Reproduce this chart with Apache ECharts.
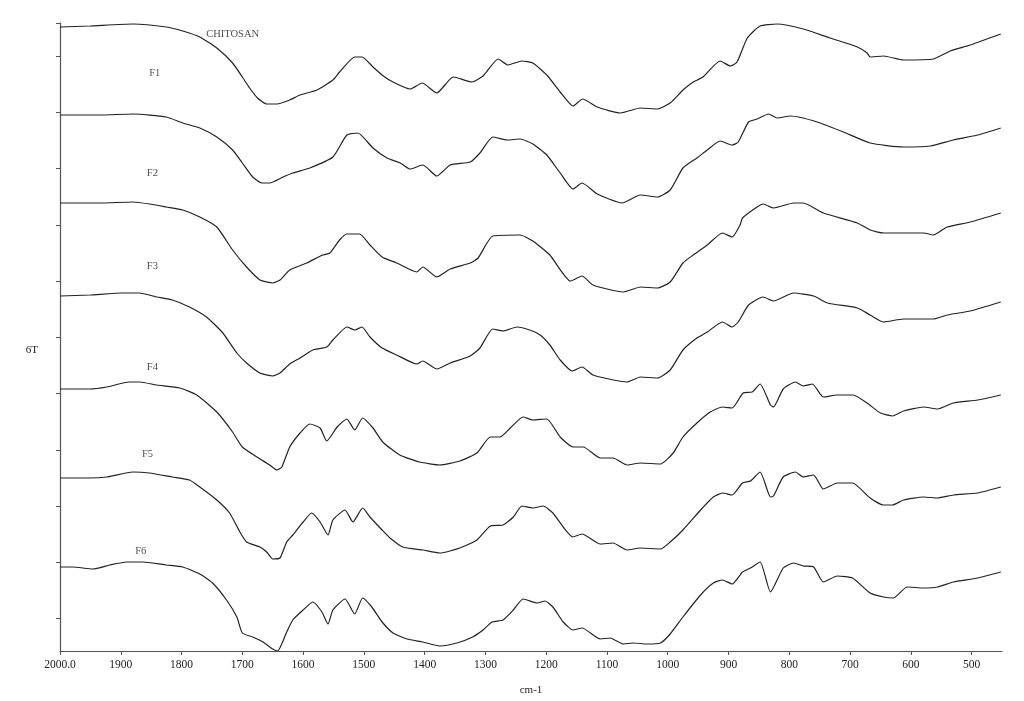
<!DOCTYPE html>
<html>
<head>
<meta charset="utf-8">
<script src="https://cdn.jsdelivr.net/npm/echarts@6/dist/echarts.min.js"></script>
<style>
html,body{margin:0;padding:0;background:#fff;}
#chart{width:1024px;height:701px;}
</style>
</head>
<body>
<div id="chart"></div>
<script>
// wavenumber (cm-1), relative %T (stacked, arbitrary offset units)
const chitosan = [[2000,624],[1951,625],[1880,627],[1825,624],[1798,620],[1770,614],[1742,603],[1716,588],[1700,574],[1688,563],[1675,553],[1660,547],[1643,547],[1622,551],[1605,556],[1577,561],[1551,571],[1540,579],[1515,594],[1503,594],[1485,584],[1468,575],[1452,569],[1424,562],[1404,568],[1380,558],[1353,574],[1322,569],[1304,575],[1279,592],[1263,586],[1240,590],[1222,588],[1199,576],[1177,559],[1156,545],[1140,552],[1116,544],[1078,538],[1045,543],[1017,542],[996,548],[975,561],[958,569],[942,574],[914,590],[897,585],[886,589],[869,613],[848,625],[820,627],[777,622],[733,613],[688,604],[672,598],[667,594],[645,595],[612,591],[563,592],[535,600],[502,606],[452,617]];
const f1 = [[2000,536],[1935,536],[1880,537],[1825,534],[1798,528],[1770,523],[1742,514],[1716,501],[1700,488],[1683,474],[1668,468],[1655,468],[1633,474],[1617,478],[1589,483],[1551,494],[1528,516],[1510,518],[1485,503],[1462,493],[1440,488],[1424,482],[1403,486],[1380,475],[1358,486],[1325,489],[1309,498],[1288,514],[1264,511],[1243,512],[1222,507],[1199,496],[1177,478],[1156,462],[1141,468],[1116,457],[1075,448],[1045,456],[1017,454],[996,461],[975,483],[952,493],[935,501],[914,510],[894,506],[884,509],[867,529],[853,532],[834,537],[820,533],[798,535],[754,529],[711,519],[667,508],[612,504],[568,505],[530,511],[490,516],[452,523]];
const f2 = [[2000,448],[1935,448],[1880,449],[1853,447],[1825,444],[1798,441],[1770,434],[1742,424],[1716,401],[1693,384],[1671,371],[1650,368],[1638,371],[1622,381],[1594,388],[1568,396],[1556,398],[1540,411],[1528,417],[1507,417],[1490,406],[1470,394],[1446,388],[1413,379],[1403,384],[1380,374],[1358,382],[1325,388],[1312,393],[1288,415],[1243,416],[1222,410],[1194,396],[1160,370],[1141,375],[1123,366],[1073,359],[1045,364],[1017,363],[996,369],[975,388],[958,396],[935,406],[910,418],[894,414],[881,426],[877,433],[853,444],[843,447],[826,443],[793,448],[777,448],[744,438],[688,428],[667,421],[645,418],[579,418],[563,416],[540,424],[502,429],[452,438]];
const f3 = [[2000,355],[1951,356],[1897,358],[1869,358],[1841,354],[1815,351],[1787,344],[1759,334],[1732,318],[1709,298],[1693,288],[1671,278],[1650,275],[1638,278],[1622,287],[1605,293],[1584,301],[1561,304],[1551,311],[1528,324],[1515,321],[1503,324],[1490,314],[1470,303],[1446,296],[1413,287],[1403,290],[1380,282],[1358,288],[1325,295],[1309,303],[1288,322],[1271,320],[1248,324],[1227,321],[1210,316],[1194,306],[1177,291],[1157,280],[1141,284],[1123,276],[1067,269],[1045,274],[1017,273],[996,281],[975,301],[952,313],[935,319],[910,329],[894,324],[884,329],[867,346],[843,354],[826,350],[793,358],[760,355],[737,348],[688,343],[667,336],[645,329],[612,332],[563,332],[540,336],[502,340],[452,349]];
const f4 = [[2000,262],[1951,262],[1923,264],[1886,269],[1869,269],[1841,266],[1803,263],[1775,256],[1742,239],[1716,219],[1700,204],[1676,194],[1655,186],[1643,181],[1635,184],[1622,204],[1605,218],[1589,227],[1572,223],[1561,210],[1544,224],[1528,232],[1515,221],[1502,233],[1485,223],[1469,209],[1441,196],[1408,189],[1375,186],[1342,190],[1314,198],[1292,214],[1276,214],[1259,223],[1238,234],[1222,231],[1199,232],[1177,214],[1156,204],[1139,204],[1111,193],[1090,193],[1067,186],[1045,188],[1012,187],[991,198],[975,214],[952,228],[930,239],[910,244],[894,243],[876,258],[861,259],[848,267],[831,246],[826,244],[810,262],[790,269],[777,265],[762,267],[744,254],[721,256],[695,256],[672,248],[650,238],[630,235],[612,240],[579,244],[556,242],[530,248],[490,251],[452,256]];
const f5 = [[2000,173],[1951,173],[1923,174],[1880,179],[1853,178],[1815,174],[1787,171],[1770,164],[1742,151],[1721,138],[1704,119],[1693,109],[1671,104],[1660,99],[1650,92],[1638,93],[1627,109],[1617,116],[1600,129],[1586,138],[1572,129],[1559,116],[1551,131],[1531,141],[1518,129],[1502,143],[1490,134],[1470,121],[1457,113],[1436,104],[1403,101],[1375,98],[1342,103],[1314,111],[1292,125],[1271,126],[1254,134],[1240,145],[1222,143],[1205,145],[1189,138],[1172,124],[1156,114],[1141,117],[1111,107],[1090,108],[1067,101],[1045,103],[1012,102],[996,109],[975,121],[946,141],[925,154],[910,158],[894,156],[877,168],[864,170],[848,179],[831,154],[826,155],[810,174],[790,179],[777,174],[760,176],[744,162],[721,168],[696,168],[667,153],[645,146],[630,146],[612,151],[579,154],[556,153],[530,156],[490,158],[452,164]];
const f6 = [[2000,84],[1979,84],[1946,82],[1918,86],[1890,89],[1864,89],[1825,86],[1798,84],[1770,77],[1749,68],[1726,51],[1709,34],[1700,18],[1683,14],[1666,9],[1650,2],[1642,0],[1627,19],[1617,31],[1600,41],[1584,49],[1569,39],[1559,27],[1551,41],[1531,52],[1515,37],[1502,53],[1487,44],[1470,29],[1452,18],[1429,12],[1403,9],[1375,5],[1347,8],[1321,14],[1304,21],[1289,29],[1271,31],[1254,41],[1238,52],[1215,48],[1202,50],[1189,44],[1172,29],[1156,21],[1141,23],[1111,12],[1095,13],[1073,7],[1057,8],[1034,7],[1012,8],[996,17],[975,34],[946,56],[925,68],[910,71],[894,67],[877,79],[864,83],[848,89],[831,59],[810,83],[793,88],[777,85],[760,84],[744,69],[721,75],[696,73],[667,58],[645,54],[629,53],[606,64],[579,63],[556,64],[530,69],[490,73],[452,79]];

const seriesNames = ['CHITOSAN','F1','F2','F3','F4','F5','F6'];
const seriesData = [chitosan, f1, f2, f3, f4, f5, f6];
// label anchors [wavenumber, %T]
const labelPos = [[1716,617],[1844,578],[1848,478],[1848,385],[1848,284],[1856,197],[1867,100]];
const xTicks = [2000,1900,1800,1700,1600,1500,1400,1300,1200,1100,1000,900,800,700,600,500];
const yTicks = [33,89,145,201,258,314,370,426,483,539,595,628];

const chart = echarts.init(document.getElementById('chart'), null, {renderer:'canvas'});
const font = 'Liberation Serif';
const series = seriesData.map((d, i) => ({
  name: seriesNames[i], type: 'line', data: d, showSymbol: false, smooth: 0.18,
  lineStyle: {color: '#222', width: 1.2}, silent: true, z: 2
}));
series.push({
  type: 'scatter', symbolSize: 0, silent: true,
  data: labelPos.map((p, i) => ({value: p, name: seriesNames[i]})),
  label: {show: true, position: 'inside', formatter: p => p.name,
          fontFamily: font, fontSize: 10.5, color: '#222'}
});

chart.setOption({
  animation: false,
  backgroundColor: '#fff',
  grid: {left: 60, right: 22, top: 23, bottom: 50},
  xAxis: {
    type: 'value', min: 450, max: 2000, inverse: true,
    name: 'cm-1', nameLocation: 'middle', nameGap: 34,
    nameTextStyle: {fontFamily: font, fontSize: 11, color: '#222'},
    axisLine: {onZero: false, lineStyle: {color: '#555', width: 1.2}},
    axisTick: {show: true, length: 4, customValues: xTicks, lineStyle: {color: '#555'}},
    axisLabel: {customValues: xTicks, fontFamily: font, fontSize: 11.5, color: '#222', margin: 8,
                formatter: v => v === 2000 ? '2000.0' : String(v)},
    splitLine: {show: false}
  },
  yAxis: {
    type: 'value', min: 0, max: 628,
    name: '\n\n6T', nameLocation: 'middle', nameGap: 22, nameRotate: 0,
    nameTextStyle: {fontFamily: font, fontSize: 11, color: '#222', lineHeight: 13},
    axisLine: {show: true, onZero: false, lineStyle: {color: '#555', width: 1.2}},
    axisTick: {show: true, length: 4, customValues: yTicks, lineStyle: {color: '#555'}},
    axisLabel: {show: false},
    splitLine: {show: false}
  },
  series: series
});
</script>
</body>
</html>
